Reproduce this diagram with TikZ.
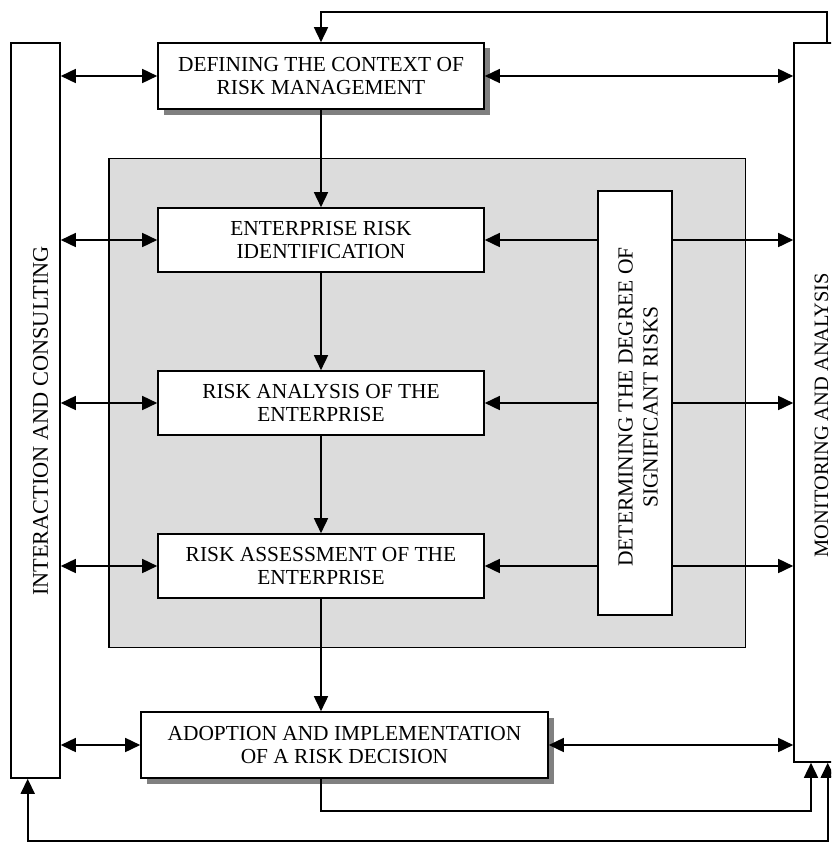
\documentclass[tikz,border=0pt]{standalone}
\usepackage{fontspec}
\setmainfont{Liberation Serif}
\usetikzlibrary{arrows.meta,shadows}
\definecolor{grayfill}{RGB}{220,220,220}
\definecolor{shadowgray}{RGB}{128,128,128}
\begin{document}
\begin{tikzpicture}[x=1pt,y=-1pt, line width=1.6pt,
  box/.style={draw, fill=white, align=center, inner sep=0pt, font=\fontsize{21.4}{23}\selectfont},
  tall/.style={draw, fill=white, inner sep=0pt},
  vlabel/.style={rotate=90, align=center, inner sep=0pt},
  shad/.style={drop shadow={shadow xshift=5.5pt, shadow yshift=-5.5pt, fill=shadowgray, opacity=1}},
  arr/.style={-{Triangle[length=15pt,width=14pt]}},
  darr/.style={{Triangle[length=15pt,width=14pt]}-{Triangle[length=15pt,width=14pt]}}
]
\useasboundingbox (0,0) rectangle (831,843);
\clip (0,0) rectangle (831,843);

% tall side boxes
\node[tall, minimum width=49pt, minimum height=735pt] (L) at (35.5,410.5) {};
\node[tall, minimum width=58pt, minimum height=719pt] (R) at (823,402.5) {};
% gray area
\node[draw, fill=grayfill, line width=1.4pt, minimum width=636.7pt, minimum height=489pt] (G) at (427.35,403.2) {};
% boxes
\node[box, shad, minimum width=326pt, minimum height=66pt] (T) at (321,76) {DEFINING THE CONTEXT OF\\RISK MANAGEMENT};
\node[box, minimum width=326pt, minimum height=64pt] (A) at (321,240) {ENTERPRISE RISK\\IDENTIFICATION};
\node[box, minimum width=326pt, minimum height=64pt] (B) at (321,403) {RISK ANALYSIS OF THE\\ENTERPRISE};
\node[box, minimum width=326pt, minimum height=64pt] (C) at (321,566) {RISK ASSESSMENT OF THE\\ENTERPRISE};
\node[tall, minimum width=74pt, minimum height=424pt] (D) at (635,403) {};
\node[box, shad, minimum width=407pt, minimum height=66pt] (E) at (344.5,745) {ADOPTION AND IMPLEMENTATION\\OF A RISK DECISION};

% rotated labels
\node[vlabel, font=\fontsize{22.3}{24}\selectfont] (Ltext) at (40.5,421) {INTERACTION AND CONSULTING};
\node[vlabel, font=\fontsize{20.4}{22}\selectfont] (Rtext) at (821.5,415) {MONITORING AND ANALYSIS};
\node[vlabel, font=\fontsize{21.5}{25}\selectfont] (Dtext) at (638,407) {DETERMINING THE DEGREE OF\\SIGNIFICANT RISKS};

% main flow
\draw[arr] (T.south) -- (A.north);
\draw[arr] (A.south) -- (B.north);
\draw[arr] (B.south) -- (C.north);
\draw[arr] (C.south) -- (C.south |- E.north);

% left and right links
\foreach \n in {T,A,B,C,E}{
  \draw[darr] (L.east |- \n.west) -- (\n.west);
}
\draw[darr] (T.east) -- (T.east -| R.west);
\draw[darr] (E.east) -- (E.east -| R.west);
\foreach \n in {A,B,C}{
  \draw[arr] (D.west |- \n.east) -- (\n.east);
  \draw[arr] (D.east |- \n.east) -- (\n.east -| R.west);
}

% feedback loops
\coordinate (rtop) at ([xshift=3.7pt]R.north);
\coordinate (topy) at (0,12);
\draw[arr] (rtop) |- (topy -| T.north) -- (T.north);

\coordinate (rb1) at ([xshift=-12pt]R.south);
\coordinate (loopa) at (0,811);
\draw[arr] (E.south -| C.south) |- (loopa -| rb1) -- (rb1);

\coordinate (rb2) at ([xshift=4.7pt]R.south);
\coordinate (lb) at ([xshift=-7.8pt]L.south);
\coordinate (loopb) at (0,841);
\draw[darr] (rb2) |- (loopb -| lb) -- (lb);
\end{tikzpicture}
\end{document}
